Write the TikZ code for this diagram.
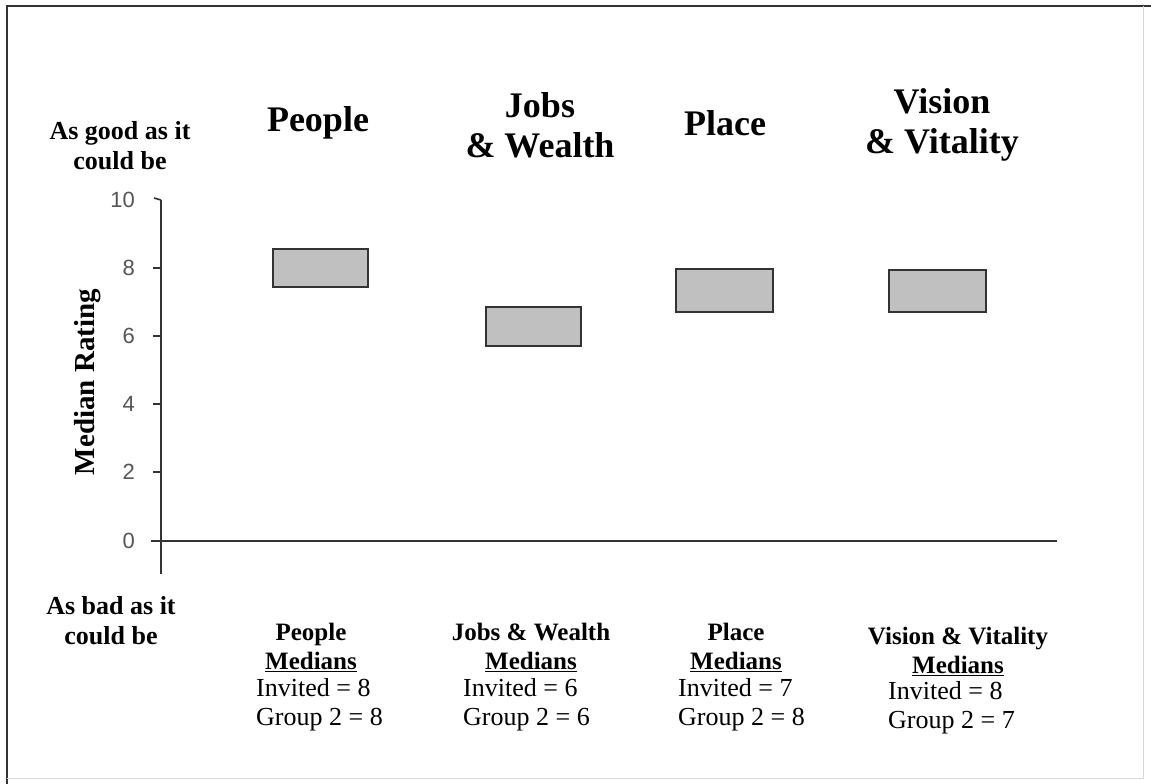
\documentclass[tikz,border=0pt]{standalone}
\usepackage{fontspec}
\setmainfont{Liberation Serif}
\newfontfamily\numfont{Liberation Sans}
\definecolor{axisgray}{HTML}{333333}
\definecolor{boxfill}{HTML}{C0C0C0}
\definecolor{numgray}{HTML}{555555}
\tikzset{
  axisline/.style={draw=axisgray, line width=1.6pt},
  rangebox/.style={draw=axisgray, fill=boxfill, line width=1.8pt, inner sep=0pt},
  title/.style={font=\fontsize{36}{40}\selectfont\bfseries, align=center, inner sep=0pt},
  endlabel/.style={font=\fontsize{26}{30}\selectfont\bfseries, align=center, inner sep=0pt},
  medhead/.style={font=\fontsize{25}{29}\selectfont\bfseries, align=center, inner sep=0pt},
  medval/.style={font=\fontsize{26}{29}\selectfont, align=left, anchor=west, inner sep=0pt},
  ticknum/.style={font=\numfont\fontsize{22}{22}\selectfont, text=numgray, inner sep=0pt, anchor=east},
}
\begin{document}
\begin{tikzpicture}[x=1pt, y=-1pt]
\useasboundingbox (0,0) rectangle (1151,784);
\fill[white] (0,0) rectangle (1151,784);
% outer frame: dark top/left edges, light bottom/right edges
\draw[black!80, line width=2pt] (7,784) -- (7,6) -- (1151,6);
\draw[black!15, line width=1pt] (1143,6) -- (1143,778) -- (7,778);

% axes
\coordinate (ytop) at (161,200);
\coordinate (ybot) at (161,574);
\coordinate (xleft) at (151,541);
\coordinate (xright) at (1057,541);
\draw[axisline] (ytop) -- (ybot);
\draw[axisline] (xleft) -- (xright);
\draw[axisline] (154,198) -- (ytop);
\foreach \v/\yy in {8/268, 6/336, 4/404, 2/472, 0/541} {
  \draw[axisline] (153,\yy) -- (161,\yy);
}
\foreach \v/\yy in {10/200, 8/268, 6/336, 4/404, 2/472, 0/541} {
  \node[ticknum] (n\v) at (135,\yy) {\v};
}
\node[font=\fontsize{29}{29}\selectfont\bfseries, rotate=90, inner sep=0pt] (ylab) at (88,382) {Median Rating};

% scale ends
\node[endlabel] (good) at (120,146) {As good as it\\could be};
\node[endlabel] (bad) at (111,621) {As bad as it\\could be};

% category titles
\node[title] (tPeople) at (318,123) {People};
\node[title] (tJobs) at (540,125) {Jobs\\\& Wealth};
\node[title] (tPlace) at (725,123) {Place};
\node[title] (tVision) at (942,125) {Vision\\\& Vitality};

% median ranges
\node[rangebox, minimum width=95pt, minimum height=38pt] (bPeople) at (320.5,268) {};
\node[rangebox, minimum width=95pt, minimum height=39pt] (bJobs) at (533.5,326.5) {};
\node[rangebox, minimum width=97pt, minimum height=43pt] (bPlace) at (724.5,290.5) {};
\node[rangebox, minimum width=97pt, minimum height=42pt] (bVision) at (937.5,291) {};

% median summaries
\node[medhead] (mPeople) at (311,647) {People\\\underline{Medians}};
\node[medval] (vPeople) at (256,705) {Invited = 8\\Group 2 = 8};

\node[medhead] (mJobs) at (531,647) {Jobs \& Wealth\\\underline{Medians}};
\node[medval] (vJobs) at (463,705) {Invited = 6\\Group 2 = 6};

\node[medhead] (mPlace) at (736,647) {Place\\\underline{Medians}};
\node[medval] (vPlace) at (678,705) {Invited = 7\\Group 2 = 8};

\node[medhead] (mVision) at (958,651) {Vision \& Vitality\\\underline{Medians}};
\node[medval] (vVision) at (888,708) {Invited = 8\\Group 2 = 7};
\end{tikzpicture}
\end{document}
